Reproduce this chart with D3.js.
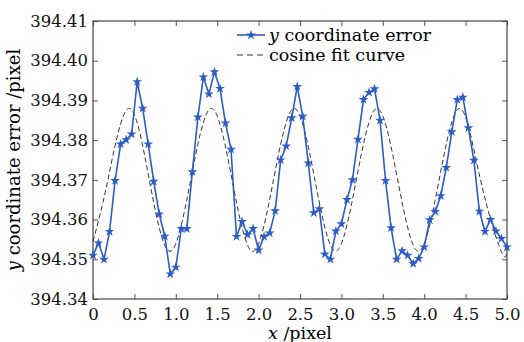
<!DOCTYPE html>
<html>
<head>
<meta charset="utf-8">
<script src="https://cdn.jsdelivr.net/npm/d3@7"></script>
<style>
  body { margin: 0; background: #fff; }
  svg { display: block; }
  .tick text { font-family: "DejaVu Serif", serif; font-size: 16.5px; fill: #111; }
</style>
</head>
<body>
<div id="chart"></div>
<script>
//---------------------------DATA-------------------------------//
// measured y coordinate error, sampled every 1/15 pixel from 0 to 5
const xStep = 1 / 15;
const errValues = [
  394.3510, 394.3541, 394.3500, 394.3570, 394.3698, 394.3790, 394.3801, 394.3815,
  394.3947, 394.3880, 394.3790, 394.3696, 394.3614, 394.3558, 394.3463, 394.3480,
  394.3577, 394.3577, 394.3720, 394.3858, 394.3959, 394.3916, 394.3972, 394.3930,
  394.3843, 394.3777, 394.3557, 394.3595, 394.3562, 394.3577, 394.3523, 394.3557,
  394.3566, 394.3622, 394.3750, 394.3785, 394.3856, 394.3935, 394.3860, 394.3742,
  394.3617, 394.3627, 394.3513, 394.3500, 394.3571, 394.3589, 394.3650, 394.3700,
  394.3802, 394.3902, 394.3920, 394.3929, 394.3850, 394.3698, 394.3579, 394.3500,
  394.3521, 394.3510, 394.3489, 394.3502, 394.3531, 394.3599, 394.3620, 394.3660,
  394.3731, 394.3821, 394.3902, 394.3908, 394.3831, 394.3749, 394.3621, 394.3570,
  394.3600, 394.3571, 394.3552, 394.3531
];
// cosine fit curve read at peaks, troughs and mid-crossings
const fitX = [0, 0.18, 0.43, 0.68, 0.93, 1.18, 1.43, 1.68, 1.93, 2.18, 2.43, 2.68,
  2.93, 3.18, 3.43, 3.68, 3.93, 4.18, 4.43, 4.68, 4.93, 5.0];
const fitY = [394.3545, 394.370, 394.388, 394.370, 394.352, 394.370, 394.388, 394.370,
  394.352, 394.370, 394.388, 394.370, 394.352, 394.370, 394.388, 394.370, 394.352,
  394.370, 394.388, 394.370, 394.352, 394.3525];
const xTicks = [0, 0.5, 1.0, 1.5, 2.0, 2.5, 3.0, 3.5, 4.0, 4.5, 5.0];
const xTickLabels = ["0", "0.5", "1.0", "1.5", "2.0", "2.5", "3.0", "3.5", "4.0", "4.5", "5.0"];
const yTicks = [394.34, 394.35, 394.36, 394.37, 394.38, 394.39, 394.40, 394.41];
const legendLabels = ["coordinate error", "cosine fit curve"];

//---------------------------SVG--------------------------------//
const width = 524;
const height = 342;
const plot = {left: 93, right: 507, top: 21, bottom: 299};
const blue = "#2d5cc6";
const serif = "DejaVu Serif, serif";

const svg = d3.select("#chart").append("svg")
    .attr("width", width)
    .attr("height", height);

//--------------------------SCALES------------------------------//
const xScale = d3.scaleLinear().domain([0, 5]).range([plot.left, plot.right]);
const yScale = d3.scaleLinear().domain([394.34, 394.41]).range([plot.bottom, plot.top]);

const errData = errValues.map(function(v, i) { return {x: i * xStep, y: v}; });
const fitData = fitX.map(function(x, i) { return {x: x, y: fitY[i]}; });

//---------------------------AXES-------------------------------//
const xaxis = d3.axisBottom(xScale)
    .tickValues(xTicks)
    .tickFormat(function(d, i) { return xTickLabels[i]; })
    .tickSizeInner(-5).tickSizeOuter(0).tickPadding(9);
const yaxis = d3.axisLeft(yScale)
    .tickValues(yTicks)
    .tickFormat(d3.format(".2f"))
    .tickSizeInner(-5).tickSizeOuter(0).tickPadding(5);

svg.append("g")
    .attr("transform", "translate(0," + plot.bottom + ")")
    .call(xaxis)
    .call(function(g) { g.select(".domain").remove(); });
svg.append("g")
    .attr("transform", "translate(" + plot.left + ",0)")
    .call(yaxis)
    .call(function(g) { g.select(".domain").remove(); });

// mirrored ticks on top and right
svg.append("g")
    .attr("transform", "translate(0," + plot.top + ")")
    .call(d3.axisTop(xScale).tickValues(xTicks).tickSizeInner(-5).tickSizeOuter(0).tickFormat(""))
    .call(function(g) { g.select(".domain").remove(); });
svg.append("g")
    .attr("transform", "translate(" + plot.right + ",0)")
    .call(d3.axisRight(yScale).tickValues(yTicks).tickSizeInner(-5).tickSizeOuter(0).tickFormat(""))
    .call(function(g) { g.select(".domain").remove(); });

svg.selectAll(".tick line").attr("stroke", "#555");

// frame
svg.append("rect")
    .attr("x", plot.left).attr("y", plot.top)
    .attr("width", plot.right - plot.left).attr("height", plot.bottom - plot.top)
    .attr("fill", "none").attr("stroke", "#444").attr("stroke-width", 1.2);

//-------------------------AXIS TITLES--------------------------//
const xTitle = svg.append("text")
    .attr("x", (plot.left + plot.right) / 2).attr("y", 339)
    .attr("text-anchor", "middle")
    .style("font-family", serif).style("font-size", "17.5px");
xTitle.append("tspan").style("font-style", "italic").text("x");
xTitle.append("tspan").text(" /pixel");

const yTitle = svg.append("text")
    .attr("transform", "translate(20," + ((plot.top + plot.bottom) / 2) + ") rotate(-90)")
    .attr("text-anchor", "middle")
    .style("font-family", serif).style("font-size", "18px");
yTitle.append("tspan").style("font-style", "italic").text("y");
yTitle.append("tspan").text(" coordinate error /pixel");

//---------------------------LINES------------------------------//
const line = d3.line()
    .x(function(d) { return xScale(d.x); })
    .y(function(d) { return yScale(d.y); });

svg.append("path")
    .attr("d", line.curve(d3.curveNatural)(fitData))
    .attr("fill", "none")
    .attr("stroke", "#333")
    .attr("stroke-width", 1)
    .attr("stroke-dasharray", "5,3");

svg.append("path")
    .attr("d", line.curve(d3.curveLinear)(errData))
    .attr("fill", "none")
    .attr("stroke", blue)
    .attr("stroke-width", 1.6);

const star = d3.symbol().type(d3.symbolStar).size(30);
svg.selectAll("points")
    .data(errData)
    .enter()
    .append("path")
    .attr("d", star)
    .attr("transform", function(d) { return "translate(" + xScale(d.x) + "," + yScale(d.y) + ")"; })
    .attr("fill", blue);

//--------------------------LEGEND------------------------------//
const legend = svg.append("g").attr("transform", "translate(237,0)");
legend.append("line")
    .attr("x1", 0).attr("x2", 28).attr("y1", 35).attr("y2", 35)
    .attr("stroke", blue).attr("stroke-width", 1.6);
legend.append("path")
    .attr("d", star)
    .attr("transform", "translate(14,35)")
    .attr("fill", blue);
const l1 = legend.append("text")
    .attr("x", 32).attr("y", 41)
    .style("font-family", serif).style("font-size", "17.5px");
l1.append("tspan").style("font-style", "italic").text("y");
l1.append("tspan").text(" " + legendLabels[0]);

legend.append("line")
    .attr("x1", 0).attr("x2", 28).attr("y1", 55).attr("y2", 55)
    .attr("stroke", "#333").attr("stroke-width", 1)
    .attr("stroke-dasharray", "6,4");
legend.append("text")
    .attr("x", 32).attr("y", 61)
    .style("font-family", serif).style("font-size", "17.5px")
    .text(legendLabels[1]);
</script>
</body>
</html>
